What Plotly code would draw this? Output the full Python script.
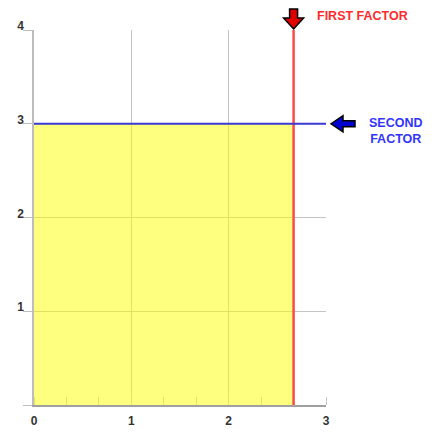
import plotly.graph_objects as go

first_factor = 2.667
second_factor = 3
x_ticks = [0, 1, 2, 3]
x_tick_text = ["0", "1", "2", "3"]
y_ticks = [0, 1, 2, 3, 4]
y_tick_text = ["", "1", "2", "3", "4"]
first_label = "FIRST FACTOR"
second_label = "SECOND<br>FACTOR"

fig = go.Figure()
# yellow area (translucent so grid shows through)
fig.add_trace(go.Scatter(x=[0, first_factor], y=[second_factor, second_factor],
                         mode="lines", line=dict(width=0), fill="tozeroy",
                         fillcolor="rgba(255,255,0,0.5)", hoverinfo="skip", showlegend=False))
# first factor (red vertical)
fig.add_trace(go.Scatter(x=[first_factor, first_factor], y=[0, 4], mode="lines",
                         line=dict(color="#ff4848", width=2.5), showlegend=False))
# second factor (blue horizontal)
fig.add_trace(go.Scatter(x=[0, 3], y=[second_factor, second_factor], mode="lines",
                         line=dict(color="#3a3ad0", width=2), showlegend=False))

# red down arrow (pixel sized, anchored at first factor, top of plot)
fig.add_shape(type="path", xref="x", yref="paper", xsizemode="pixel", ysizemode="pixel",
              xanchor=first_factor, yanchor=1,
              path="M 0,1 L 10,12 L 4,12 L 4,21 L -4,21 L -4,12 L -10,12 Z",
              fillcolor="#e00000", line=dict(color="black", width=1.5), layer="above")
# blue left arrow
fig.add_shape(type="path", xref="paper", yref="y", xsizemode="pixel", ysizemode="pixel",
              xanchor=1, yanchor=second_factor,
              path="M 5,0 L 17,8 L 17,3 L 29,3 L 29,-3 L 17,-3 L 17,-8 Z",
              fillcolor="#0000d0", line=dict(color="black", width=1.5), layer="above")

fig.add_annotation(text=first_label, xref="paper", yref="paper", x=1, y=1,
                   xanchor="left", yanchor="middle", xshift=-11, yshift=14, showarrow=False,
                   font=dict(family="Liberation Sans", size=12.5, color="#ff2a2a", weight="bold"))
fig.add_annotation(text=second_label, xref="paper", yref="y", x=1, y=second_factor,
                   xanchor="center", yanchor="top", xshift=69, yshift=10, showarrow=False,
                   align="center",
                   font=dict(family="Liberation Sans", size=12.5, color="#3333ff", weight="bold"))

fig.update_layout(
    width=435, height=440,
    margin=dict(l=34, r=109, t=30, b=22),
    plot_bgcolor="white", paper_bgcolor="white",
    showlegend=False,
)
fig.update_xaxes(range=[0, 3], tickvals=x_ticks, ticktext=x_tick_text,
                 showgrid=True, gridcolor="#c4c4c4", gridwidth=1.2,
                 showline=True, linecolor="#a0a0a0", linewidth=1.5,
                 ticks="", zeroline=False, layer="below traces",
                 ticklabelstandoff=4,
                 tickfont=dict(family="Liberation Sans", size=12, color="#333333", weight="bold"),
                 minor=dict(ticks="inside", dtick=1/3, ticklen=8, tickcolor="#c8c8c8", showgrid=False),
                 fixedrange=True)
fig.update_yaxes(range=[0, 4], tickvals=y_ticks, ticktext=y_tick_text,
                 showgrid=True, gridcolor="#c4c4c4", gridwidth=1.2,
                 showline=True, linecolor="#bdbdbd", linewidth=1.5,
                 ticks="outside", ticklen=9, tickcolor="#bdbdbd",
                 ticklabelshift=-4, ticklabelstandoff=-3, zeroline=False,
                 tickfont=dict(family="Liberation Sans", size=12, color="#333333", weight="bold"),
                 fixedrange=True)

fig.write_html("out.html", config={"displayModeBar": False},
               post_script=("document.documentElement.style.margin='0px';"
                            "document.body.style.margin='0px';"
                            "document.body.style.overflow='hidden';"))
